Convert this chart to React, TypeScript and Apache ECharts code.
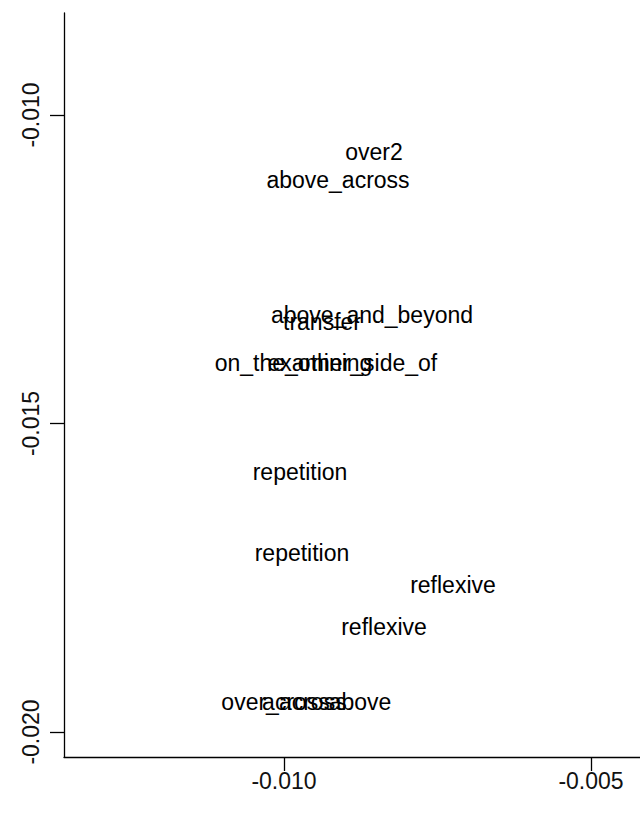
import React, { useEffect, useRef } from "react";
import * as echarts from "echarts";

const labels: string[] = [
  "over2",
  "above_across",
  "above_and_beyond",
  "transfer",
  "on_the_other_side_of",
  "examining",
  "repetition",
  "repetition",
  "reflexive",
  "reflexive",
  "over_across",
  "across",
  "above",
];
const xValues: number[] = [
  -0.008534, -0.009121, -0.008567, -0.009381, -0.009316, -0.009414,
  -0.009739, -0.009707, -0.007248, -0.008371, -0.010000, -0.009805, -0.008762,
];
const yValues: number[] = [
  -0.0106, -0.011053, -0.013241, -0.013355, -0.014019, -0.014019,
  -0.015786, -0.017099, -0.017618, -0.018298, -0.019514, -0.019514, -0.019514,
];
const xTicks: number[] = [-0.01, -0.005];
const yTicks: number[] = [-0.02, -0.015, -0.01];

const FONT = "'Liberation Sans', Arial, sans-serif";
const TEXT = "#000000";

export default function App() {
  const ref = useRef<HTMLDivElement>(null);
  useEffect(() => {
    if (!ref.current) return;
    const chart = echarts.init(ref.current, undefined, { renderer: "svg" });
    const data = labels.map((name, i) => ({ name, value: [xValues[i], yValues[i]] }));
    chart.setOption({
      animation: false,
      backgroundColor: "#ffffff",
      grid: { left: 64, top: 13, right: 0, bottom: 59 },
      xAxis: {
        type: "value",
        min: -0.013583,
        max: -0.004202,
        axisLine: { show: true, onZero: false, lineStyle: { color: "#000", width: 1.3 } },
        axisTick: { show: true, length: 14, customValues: xTicks, lineStyle: { color: "#000", width: 1.3 } },
        axisLabel: {
          customValues: xTicks,
          formatter: (v: number) => v.toFixed(3),
          color: "#111",
          fontSize: 23,
          fontFamily: FONT,
          margin: 12,
        },
        splitLine: { show: false },
      },
      yAxis: {
        type: "value",
        min: -0.020405,
        max: -0.008347,
        axisLine: { show: true, onZero: false, lineStyle: { color: "#000", width: 1.3 } },
        axisTick: { show: true, length: 14, customValues: yTicks, lineStyle: { color: "#000", width: 1.3 } },
        axisLabel: {
          customValues: yTicks,
          formatter: (v: number) => v.toFixed(3),
          rotate: 90,
          color: "#111",
          fontSize: 23,
          fontFamily: FONT,
          margin: 22,
        },
        splitLine: { show: false },
      },
      series: [
        {
          type: "scatter",
          symbolSize: 0,
          itemStyle: { color: "#000" },
          data,
          label: {
            show: true,
            position: "inside",
            formatter: "{b}",
            color: TEXT,
            textBorderWidth: 0,
            opacity: 1,
            fontSize: 23,
            fontFamily: FONT,
          },
          labelLayout: { hideOverlap: false },
          emphasis: { disabled: true },
        },
      ],
    });
    return () => chart.dispose();
  }, []);
  return (
    <div
      ref={ref}
      style={{ position: "absolute", left: 0, top: 0, width: 640, height: 816 }}
    />
  );
}
